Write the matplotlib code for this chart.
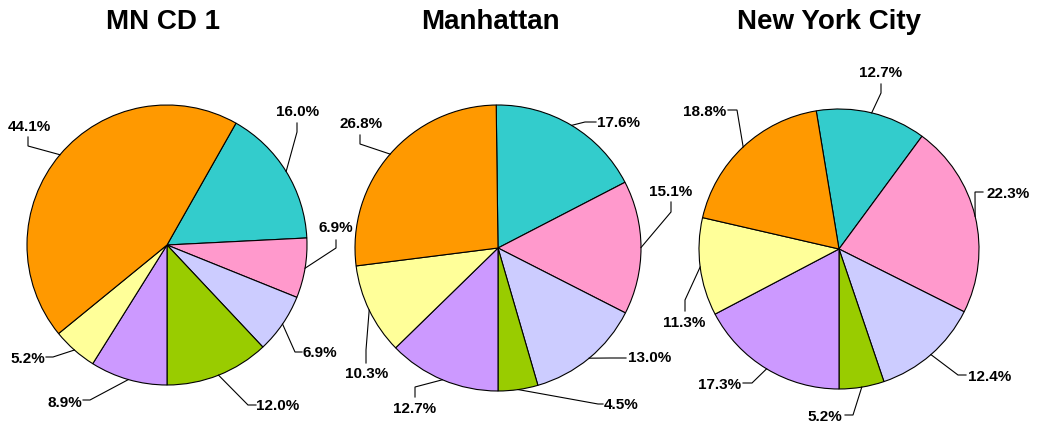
import numpy as np
import matplotlib
matplotlib.use('Agg')
import matplotlib.pyplot as plt

plt.rcParams['font.family'] = ['Liberation Sans', 'DejaVu Sans']

W, H = 1045, 424

# Data (slice order: clockwise from the teal slice)
titles = ["MN CD 1", "Manhattan", "New York City"]
colors = ['#33CCCC', '#FF99CC', '#CCCCFF', '#99CC00', '#CC99FF', '#FFFF99', '#FF9900']
mn_cd1 = [16.0, 6.9, 6.9, 12.0, 8.9, 5.2, 44.1]
manhattan = [17.6, 15.1, 13.0, 4.5, 12.7, 10.3, 26.8]
nyc = [12.7, 22.3, 12.4, 5.2, 17.3, 11.3, 18.8]

# Layout in pixels (y measured from the top)
centers = [(167, 245), (498, 248), (839, 249)]
radii = [140, 143, 140]
title_pos = [(163, 22), (490, 22), (829, 22)]

# label text centre, leader elbow, leader end (one row per slice)
label_text = [
    [(298, 112), (336, 228), (320, 353), (278, 406), (65, 403), (28, 359), (29, 127)],
    [(619, 123), (671, 192), (650, 358), (621, 405), (415, 409), (367, 374), (361, 124)],
    [(881, 73), (1008, 194), (990, 377), (825, 417), (720, 385), (684, 323), (705, 112)],
]
label_elbow = [
    [(297, 132), (336, 248), (295, 352), (248, 405), (90, 400), (53, 357), (28, 146)],
    [(585, 122), (671, 212), (610, 358), (598, 404), (415, 387), (366, 350), (360, 144)],
    [(881, 93), (975, 192), (958, 375), (853, 415), (752, 383), (685, 300), (737, 110)],
]
label_end = [
    [(297, 123), (336, 240), (302, 352), (256, 405), (83, 400), (46, 357), (28, 137)],
    [(596, 122), (671, 202), (626, 358), (603, 404), (415, 397), (366, 363), (360, 135)],
    [(881, 84), (983, 192), (966, 375), (845, 415), (743, 383), (685, 311), (728, 110)],
]

fig = plt.figure(figsize=(W / 100, H / 100), dpi=100)
ax = fig.add_axes([0, 0, 1, 1])

for k, vals in enumerate([mn_cd1, manhattan, nyc]):
    cx, cy = centers[k]
    r = radii[k]
    # green/purple boundary sits straight down
    start = -90 + 3.6 * sum(vals[:4])
    wedges, _ = ax.pie(vals, colors=colors, startangle=start, counterclock=False,
                       center=(cx, H - cy), radius=r,
                       wedgeprops=dict(edgecolor='black', linewidth=0.8))
    for i, w in enumerate(wedges):
        mid = np.deg2rad((w.theta1 + w.theta2) / 2)
        px, py = cx + r * np.cos(mid), (H - cy) + r * np.sin(mid)
        ex, ey = label_elbow[k][i]
        qx, qy = label_end[k][i]
        ax.plot([px, ex, qx], [py, H - ey, H - qy], color='black', lw=0.8,
                solid_joinstyle='miter')
        tx, ty = label_text[k][i]
        ax.text(tx, H - ty, "%.1f%%" % vals[i], ha='center', va='center',
                fontsize=11, fontweight='bold')
    ax.text(title_pos[k][0], H - title_pos[k][1], titles[k], ha='center', va='center',
            fontsize=20, fontweight='bold')

ax.set_xlim(0, W)
ax.set_ylim(0, H)
ax.set_aspect('equal')
ax.axis('off')

plt.savefig('out.png', dpi=100)
